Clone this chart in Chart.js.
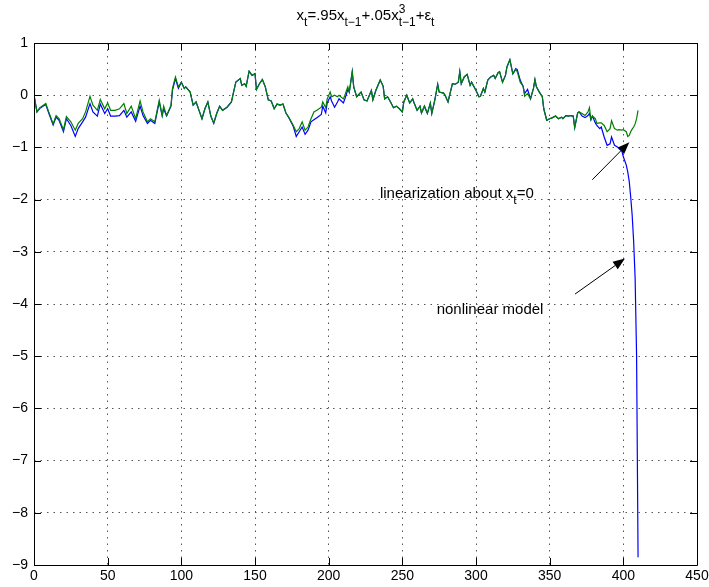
<!DOCTYPE html>
<html>
<head>
<meta charset="utf-8">
<script src="https://cdn.jsdelivr.net/npm/chart.js@4.4.0/dist/chart.umd.min.js"></script>
<style>
  body { margin: 0; background: #fff; }
  #wrap { width: 709px; height: 587px; }
</style>
</head>
<body>
<div id="wrap"><canvas id="chart" width="709" height="587"></canvas></div>
<script>
const steps = [0, 2, 4, 8, 10, 13, 15, 17, 20, 22, 25, 28, 30, 33, 35, 38, 40, 43, 45, 48,
  50, 52, 55, 58, 61, 63, 66, 69, 72, 74, 77, 79, 82, 85, 87, 88, 90, 93, 94, 96,
  98, 100, 102, 103, 106, 108, 110, 112, 114, 116, 118, 120, 122, 124, 126, 128, 131, 134, 135, 137,
  140, 141, 143, 144, 146, 148, 150, 151, 153, 155, 157, 159, 161, 163, 165, 167, 169, 171, 173, 176,
  178, 180, 182, 184, 186, 188, 190, 192, 195, 196, 198, 199, 201, 202, 204, 206, 207, 210, 211, 213,
  214, 216, 217, 219, 222, 224, 226, 229, 230, 232, 235, 237, 238, 240, 242, 244, 246, 248, 250, 251,
  253, 255, 257, 258, 260, 262, 263, 265, 267, 269, 270, 272, 274, 275, 278, 279, 281, 284, 286, 288,
  289, 290, 292, 294, 296, 297, 300, 302, 303, 305, 306, 308, 310, 312, 313, 315, 316, 318, 320, 321,
  323, 325, 327, 328, 330, 332, 333, 335, 337, 339, 340, 341, 343, 345, 346, 348, 350, 352, 354, 356,
  358, 359, 361, 363, 364, 366, 367, 369, 370, 372, 374, 376, 377, 378, 379, 381, 382, 384, 385, 387,
  389, 391, 392, 394, 396, 397, 399, 400, 402, 403, 404, 405, 406, 407, 408, 409, 410];

// blue: nonlinear model
const nonlinear = [0.00, -0.32, -0.25, -0.18, -0.34, -0.57, -0.42, -0.48, -0.70, -0.45, -0.58, -0.79, -0.64, -0.51, -0.42, -0.16, -0.32, -0.40, -0.17, -0.35,
  -0.26, -0.40, -0.40, -0.39, -0.29, -0.42, -0.32, -0.50, -0.21, -0.39, -0.54, -0.48, -0.54, -0.13, -0.39, -0.26, -0.40, -0.21, 0.10, 0.32,
  0.13, 0.25, 0.13, 0.16, 0.06, -0.19, -0.13, -0.29, -0.45, -0.26, -0.13, -0.40, -0.54, -0.35, -0.21, -0.29, -0.23, -0.13, 0.00, 0.25,
  0.32, 0.19, 0.22, 0.17, 0.46, 0.38, 0.41, 0.11, 0.22, 0.30, 0.16, -0.09, -0.11, -0.26, -0.17, -0.19, -0.17, -0.34, -0.43, -0.60,
  -0.79, -0.70, -0.61, -0.75, -0.67, -0.51, -0.47, -0.43, -0.37, -0.21, -0.34, -0.15, -0.03, -0.11, -0.23, -0.13, -0.07, -0.15, -0.07, 0.11,
  0.06, 0.45, 0.16, -0.03, 0.06, -0.09, -0.11, 0.09, -0.09, 0.09, 0.29, 0.17, -0.07, -0.03, -0.13, -0.24, -0.21, -0.26, -0.32, -0.13,
  0.00, -0.15, -0.07, -0.15, -0.29, -0.21, -0.34, -0.21, -0.35, -0.15, -0.35, -0.10, 0.21, 0.06, 0.04, 0.00, -0.13, 0.22, 0.21, 0.25,
  0.45, 0.22, 0.35, 0.40, 0.19, 0.25, 0.09, -0.03, -0.02, 0.13, 0.06, 0.29, 0.35, 0.38, 0.32, 0.43, 0.45, 0.25, 0.38, 0.54,
  0.68, 0.41, 0.51, 0.49, 0.29, 0.17, 0.03, 0.11, -0.07, 0.13, 0.30, 0.16, 0.06, -0.03, -0.26, -0.48, -0.45, -0.43, -0.40, -0.45,
  -0.42, -0.45, -0.39, -0.40, -0.39, -0.40, -0.62, -0.34, -0.32, -0.40, -0.43, -0.39, -0.35, -0.47, -0.40, -0.53, -0.58, -0.64, -0.61, -0.80,
  -0.96, -0.93, -0.80, -0.96, -0.99, -1.02, -1.07, -1.18, -1.34, -1.47, -1.65, -1.95, -2.30, -2.80, -3.50, -5.00, -8.85];

// green: linearization about x_t = 0
const linearized = [0.00, -0.32, -0.24, -0.16, -0.32, -0.55, -0.39, -0.45, -0.66, -0.41, -0.51, -0.67, -0.54, -0.45, -0.32, -0.02, -0.19, -0.29, -0.08, -0.26,
  -0.15, -0.29, -0.29, -0.26, -0.16, -0.35, -0.21, -0.45, -0.11, -0.32, -0.51, -0.45, -0.51, -0.10, -0.39, -0.21, -0.39, -0.19, 0.13, 0.35,
  0.16, 0.25, 0.13, 0.16, 0.06, -0.19, -0.13, -0.29, -0.45, -0.26, -0.13, -0.40, -0.53, -0.35, -0.21, -0.29, -0.23, -0.13, 0.00, 0.25,
  0.32, 0.19, 0.22, 0.17, 0.46, 0.38, 0.41, 0.11, 0.22, 0.30, 0.16, -0.09, -0.11, -0.26, -0.17, -0.19, -0.17, -0.34, -0.43, -0.58,
  -0.70, -0.64, -0.51, -0.67, -0.61, -0.45, -0.32, -0.29, -0.23, -0.13, -0.24, -0.07, 0.06, -0.03, 0.00, -0.03, 0.00, -0.07, 0.00, 0.16,
  0.06, 0.45, 0.16, -0.03, 0.06, -0.09, -0.11, 0.09, -0.09, 0.09, 0.29, 0.17, -0.07, -0.03, -0.13, -0.24, -0.21, -0.26, -0.32, -0.13,
  0.00, -0.15, -0.07, -0.15, -0.29, -0.21, -0.34, -0.21, -0.35, -0.15, -0.35, -0.10, 0.21, 0.06, 0.04, 0.00, -0.13, 0.22, 0.21, 0.25,
  0.45, 0.22, 0.35, 0.40, 0.19, 0.25, 0.09, -0.03, -0.02, 0.13, 0.06, 0.29, 0.35, 0.38, 0.32, 0.43, 0.45, 0.25, 0.38, 0.54,
  0.68, 0.41, 0.49, 0.45, 0.25, 0.17, -0.02, 0.03, -0.07, 0.13, 0.30, 0.16, 0.06, -0.03, -0.26, -0.48, -0.45, -0.43, -0.40, -0.45,
  -0.42, -0.45, -0.39, -0.40, -0.39, -0.40, -0.62, -0.34, -0.32, -0.35, -0.39, -0.32, -0.24, -0.47, -0.40, -0.45, -0.54, -0.53, -0.53, -0.58,
  -0.70, -0.64, -0.49, -0.64, -0.67, -0.66, -0.67, -0.66, -0.70, -0.79, -0.77, -0.70, -0.65, -0.61, -0.55, -0.45, -0.29];

const xTicks = [0, 50, 100, 150, 200, 250, 300, 350, 400, 450];
const yTicks = [1, 0, -1, -2, -3, -4, -5, -6, -7, -8, -9];

// annotation anchors in data units: [tail t, tail x, tip t, tip x]
const arrowLinear = [378.9, -1.62, 404.1, -0.90];
const arrowNonlinear = [367.2, -3.81, 401.1, -3.13];
const labelLinearAt = [234.8, -1.97];
const labelNonlinearAt = [273.3, -4.19];

const FONT = '"Liberation Sans", Arial, Helvetica, sans-serif';

function toPoints(ys) {
  return steps.map((t, i) => ({ x: t, y: ys[i] }));
}

// draws pieces of text with sub/superscripts, returns total width
function drawRich(ctx, parts, x, y, size, small, measureOnly) {
  let cx = x;
  parts.forEach(p => {
    if (p.stack) {
      ctx.font = small + 'px ' + FONT;
      const w1 = ctx.measureText(p.sup).width;
      const w2 = ctx.measureText(p.sub).width;
      if (!measureOnly) {
        ctx.fillText(p.sup, cx, y - 7);
        ctx.fillText(p.sub, cx, y + 6);
      }
      cx += Math.max(w1, w2);
      return;
    }
    const isSmall = p.sub || p.sup;
    ctx.font = (isSmall ? small : size) + 'px ' + FONT;
    const dy = p.sub ? 6 : (p.sup ? -7 : 0);
    if (!measureOnly) ctx.fillText(p.text, cx, y + dy);
    cx += ctx.measureText(p.text).width;
  });
  return cx - x;
}

const titleParts = [
  { text: 'x' }, { text: 't', sub: true }, { text: '=.95x' }, { text: 't\u22121', sub: true },
  { text: '+.05x' }, { stack: true, sup: '3', sub: 't\u22121' }, { text: '+\u03b5' }, { text: 't', sub: true }
];

const matlabLook = {
  id: 'matlabLook',
  afterDraw(chart) {
    const ctx = chart.ctx;
    const a = chart.chartArea;
    const xs = chart.scales.x, ys = chart.scales.y;
    ctx.save();
    ctx.fillStyle = '#000';
    ctx.strokeStyle = '#000';
    ctx.textBaseline = 'alphabetic';
    ctx.textAlign = 'left';

    // title
    const w = drawRich(ctx, titleParts, 0, 0, 15, 12, true);
    drawRich(ctx, titleParts, (a.left + a.right) / 2 - w / 2, 20, 15, 12, false);

    // box and inward ticks
    ctx.lineWidth = 1;
    ctx.beginPath();
    ctx.rect(Math.round(a.left) + 0.5, Math.round(a.top) + 0.5, Math.round(a.right - a.left), Math.round(a.bottom - a.top));
    ctx.stroke();
    const tl = 7;
    ctx.beginPath();
    xTicks.forEach(v => {
      const px = Math.round(xs.getPixelForValue(v)) + 0.5;
      ctx.moveTo(px, a.bottom); ctx.lineTo(px, a.bottom - tl);
      ctx.moveTo(px, a.top); ctx.lineTo(px, a.top + tl);
    });
    yTicks.forEach(v => {
      const py = Math.round(ys.getPixelForValue(v)) + 0.5;
      ctx.moveTo(a.left, py); ctx.lineTo(a.left + tl, py);
      ctx.moveTo(a.right, py); ctx.lineTo(a.right - tl, py);
    });
    ctx.stroke();

    // arrows
    [arrowLinear, arrowNonlinear].forEach(ar => {
      const x0 = xs.getPixelForValue(ar[0]), y0 = ys.getPixelForValue(ar[1]);
      const x1 = xs.getPixelForValue(ar[2]), y1 = ys.getPixelForValue(ar[3]);
      const ang = Math.atan2(y1 - y0, x1 - x0);
      const hl = 12, hw = 4.5;
      ctx.beginPath();
      ctx.moveTo(x0, y0);
      ctx.lineTo(x1 - hl * Math.cos(ang), y1 - hl * Math.sin(ang));
      ctx.stroke();
      ctx.beginPath();
      ctx.moveTo(x1, y1);
      ctx.lineTo(x1 - hl * Math.cos(ang) + hw * Math.sin(ang), y1 - hl * Math.sin(ang) - hw * Math.cos(ang));
      ctx.lineTo(x1 - hl * Math.cos(ang) - hw * Math.sin(ang), y1 - hl * Math.sin(ang) + hw * Math.cos(ang));
      ctx.closePath();
      ctx.fill();
    });

    // annotation labels
    drawRich(ctx, [{ text: 'linearization about x' }, { text: 't', sub: true }, { text: '=0' }],
      xs.getPixelForValue(labelLinearAt[0]), ys.getPixelForValue(labelLinearAt[1]), 15, 12, false);
    drawRich(ctx, [{ text: 'nonlinear model' }],
      xs.getPixelForValue(labelNonlinearAt[0]), ys.getPixelForValue(labelNonlinearAt[1]), 15, 12, false);
    ctx.restore();
  }
};

const tickLabel = v => String(v).replace('-', '\u2212');

new Chart(document.getElementById('chart'), {
  type: 'line',
  data: {
    datasets: [
      { label: 'linearization', data: toPoints(linearized), borderColor: '#008000', order: 0 },
      { label: 'nonlinear model', data: toPoints(nonlinear), borderColor: '#0000ff', order: 1 }
    ]
  },
  options: {
    responsive: false,
    animation: false,
    layout: { padding: { top: 43, right: 12, left: 0, bottom: 0 } },
    elements: {
      line: { borderWidth: 1.2, tension: 0, fill: false },
      point: { radius: 0 }
    },
    plugins: {
      legend: { display: false },
      tooltip: { enabled: false },
      title: { display: false }
    },
    scales: {
      x: {
        type: 'linear',
        min: 0,
        max: 450,
        afterBuildTicks: s => { s.ticks = xTicks.map(v => ({ value: v })); },
        afterFit: s => { s.height = 22; s.paddingLeft = 0; s.paddingRight = 0; },
        grid: { color: '#555', lineWidth: 1, drawTicks: false },
        border: { display: false, dash: [1.5, 5] },
        ticks: { padding: 3, color: '#000', font: { size: 14, family: FONT }, callback: tickLabel, maxRotation: 0 }
      },
      y: {
        type: 'linear',
        min: -9,
        max: 1,
        afterBuildTicks: s => { s.ticks = yTicks.map(v => ({ value: v })); },
        afterFit: s => { s.width = 34; s.paddingTop = 0; s.paddingBottom = 0; },
        grid: { color: '#555', lineWidth: 1, drawTicks: false },
        border: { display: false, dash: [1.5, 5] },
        ticks: { padding: 6, color: '#000', font: { size: 14, family: FONT }, callback: tickLabel }
      }
    }
  },
  plugins: [matlabLook]
});
</script>
</body>
</html>
